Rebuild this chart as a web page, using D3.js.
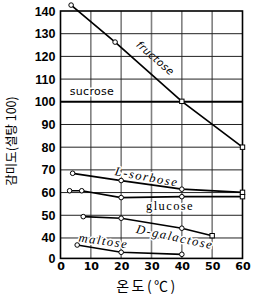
<!DOCTYPE html>
<html>
<head>
<meta charset="utf-8">
<script src="https://cdn.jsdelivr.net/npm/d3@7"></script>
<style>
html,body{margin:0;padding:0;background:#fff;}
svg{display:block;}
</style>
</head>
<body>
<svg id="chart" width="257" height="296"></svg>
<script>
// ---- data ----
const xTicks = [0, 10, 20, 30, 40, 50, 60];
const yTicks = [31, 40, 50, 60, 70, 80, 90, 100, 110, 120, 130, 140]; // 31 = broken-axis origin, shown as "0"
const yBreak = 31;
const sucroseValue = 100;
const fructose  = [[3.5, 142.6], [18, 126.3], [40, 100.2], [60, 80]];
const sorbose   = [[4, 68.5], [20, 65.3], [40, 61.5], [60, 60.1]];
const glucose   = [[3, 60.8], [7, 60.8], [20, 57.8], [40, 58.2], [60, 58.2]];
const galactose = [[7.5, 49.4], [20, 48.7], [40, 44.3], [50, 41]];
const maltose   = [[5.5, 36.9], [20, 33.7], [40, 32.8]];
const seriesNames = ["fructose", "L-sorbose", "glucose", "D-galactose", "maltose"];

// ---- layout ----
const svg = d3.select("#chart");
const x = d3.scaleLinear().domain([0, 60]).range([60.5, 242.5]);
const y = d3.scaleLinear().domain([yBreak, 140]).range([258.4, 11]);

// vertical grid
svg.append("g").selectAll("line").data(xTicks.filter(d => d > 0 && d < 60)).join("line")
  .attr("x1", d => x(d)).attr("x2", d => x(d)).attr("y1", y(140)).attr("y2", y(yBreak))
  .attr("stroke", "#808080").attr("stroke-width", 1.6);
// horizontal grid
svg.append("g").selectAll("line").data(yTicks.filter(d => d >= 40 && d < 140 && d !== sucroseValue)).join("line")
  .attr("x1", x(0)).attr("x2", x(60)).attr("y1", d => y(d)).attr("y2", d => y(d))
  .attr("stroke", "#222").attr("stroke-width", 1);

// frame
svg.append("rect").attr("x", x(0)).attr("y", y(140)).attr("width", x(60) - x(0)).attr("height", y(yBreak) - y(140))
  .attr("fill", "none").attr("stroke", "#000").attr("stroke-width", 1.6);

// sucrose
svg.append("line").attr("x1", x(0)).attr("x2", x(60)).attr("y1", y(sucroseValue)).attr("y2", y(sucroseValue))
  .attr("stroke", "#000").attr("stroke-width", 2);

// labels with white halo (interrupt grid lines)
function label(txt, px, py, rot, opts) {
  return svg.append("text").text(txt)
    .attr("transform", `translate(${px},${py}) rotate(${rot})`)
    .attr("text-anchor", "middle")
    .attr("font-family", opts.family)
    .attr("font-size", opts.size)
    .attr("font-style", opts.style || "normal")
    .attr("letter-spacing", opts.ls || 0)
    .attr("fill", "#000")
    .attr("stroke", "#fff").attr("stroke-width", 3).attr("paint-order", "stroke")
    .attr("stroke-linejoin", "round");
}
label("sucrose", 92, 95, 0, {family: "DejaVu Sans", size: 11, ls: 0.3});
label("L-sorbose", 146, 181, 10.6, {family: "Liberation Serif", size: 12.5, style: "italic", ls: 1.6});
label("glucose", 170, 210, 0, {family: "Liberation Serif", size: 12.5, ls: 1.4});
label("D-galactose", 174, 241, 12.2, {family: "Liberation Serif", size: 12.5, style: "italic", ls: 1.6});
label("maltose", 103, 245, 7.8, {family: "Liberation Serif", size: 12.5, style: "italic", ls: 1.6});

// series lines
const line = d3.line().x(d => x(d[0])).y(d => y(d[1]));
const allSeries = [fructose, sorbose, glucose, galactose, maltose];
allSeries.forEach((s, i) => {
  svg.append("path").datum(s).attr("d", line).attr("fill", "none")
    .attr("stroke", "#000").attr("stroke-width", 1.7).attr("class", "s-" + seriesNames[i]);
});
label("fructose", 153, 61, 41, {family: "DejaVu Sans", size: 10.5, style: "italic", ls: 0.4})
  .attr("stroke-width", 0);

// markers
allSeries.forEach(s => {
  s.forEach((d, j) => {
    const isSquare = (j === s.length - 1 && d[0] >= 50) || (s === fructose && d[0] === 40);
    if (isSquare) {
      svg.append("rect").attr("x", x(d[0]) - 2.2).attr("y", y(d[1]) - 2.2).attr("width", 4.4).attr("height", 4.4)
        .attr("fill", "#fff").attr("stroke", "#000").attr("stroke-width", 1);
    } else {
      svg.append("circle").attr("cx", x(d[0])).attr("cy", y(d[1])).attr("r", 2.3)
        .attr("fill", "#fff").attr("stroke", "#000").attr("stroke-width", 1);
    }
  });
});

// axes
const yAxis = d3.axisLeft(y).tickValues(yTicks).tickSize(0).tickPadding(5)
  .tickFormat(d => d === yBreak ? "0" : d);
const gy = svg.append("g").attr("transform", `translate(${x(0)},0)`).call(yAxis);
gy.select(".domain").remove();
gy.selectAll("text").attr("font-family", "Liberation Sans").attr("font-weight", "bold")
  .attr("font-size", 12.5).attr("fill", "#000");

const xAxis = d3.axisBottom(x).tickValues(xTicks).tickSize(0).tickPadding(4);
const gx = svg.append("g").attr("transform", `translate(0,${y(yBreak)})`).call(xAxis);
gx.select(".domain").remove();
gx.selectAll("text").attr("font-family", "DejaVu Sans").attr("font-weight", "bold")
  .attr("font-size", 11).attr("fill", "#000");

// axis titles
svg.append("text").text("온도(℃)").attr("x", 147).attr("y", 291).attr("text-anchor", "middle")
  .attr("font-family", "Noto Sans CJK KR").attr("font-size", 14).attr("letter-spacing", 2.5).attr("fill", "#000");
svg.append("text").text("감미도(설탕 100)").attr("transform", "translate(16,141) rotate(-90)")
  .attr("text-anchor", "middle").attr("font-family", "Noto Sans CJK KR").attr("font-size", 12.5).attr("fill", "#000");
</script>
</body>
</html>
